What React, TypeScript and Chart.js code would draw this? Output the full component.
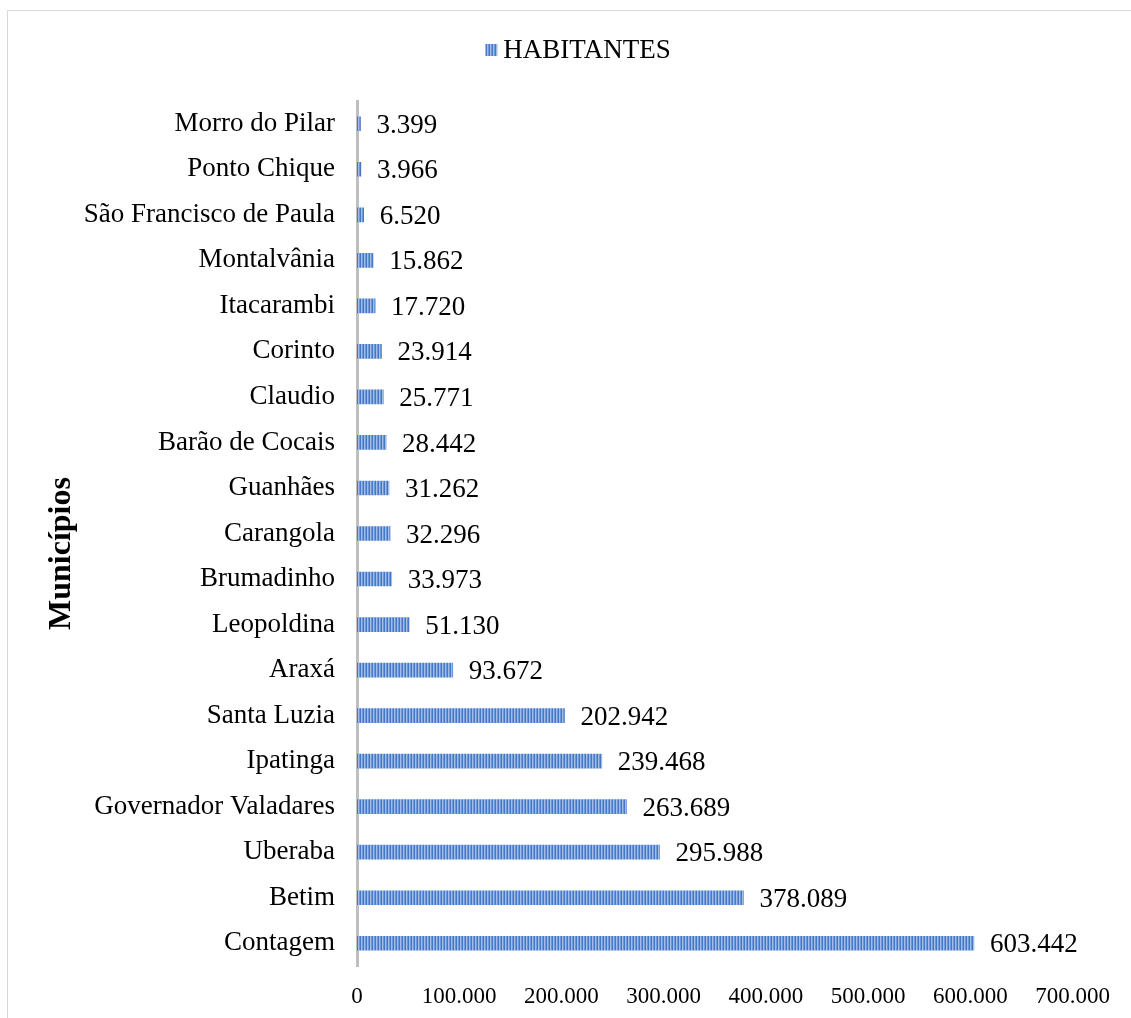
import React, { useEffect, useRef } from "react";
import { Chart, registerables } from "chart.js";

Chart.register(...registerables);

const municipios: string[] = [
  "Morro do Pilar",
  "Ponto Chique",
  "São Francisco de Paula",
  "Montalvânia",
  "Itacarambi",
  "Corinto",
  "Claudio",
  "Barão de Cocais",
  "Guanhães",
  "Carangola",
  "Brumadinho",
  "Leopoldina",
  "Araxá",
  "Santa Luzia",
  "Ipatinga",
  "Governador Valadares",
  "Uberaba",
  "Betim",
  "Contagem",
];

const habitantes: number[] = [
  3399, 3966, 6520, 15862, 17720, 23914, 25771, 28442, 31262, 32296, 33973,
  51130, 93672, 202942, 239468, 263689, 295988, 378089, 603442,
];

const seriesLabel = "HABITANTES";
const axisTitle = "Municípios";
const xMax = 700000;
const xStep = 100000;

const FONT = "'Liberation Serif', 'Times New Roman', serif";

function fmt(n: number): string {
  return String(Math.round(n)).replace(/\B(?=(\d{3})+(?!\d))/g, ".");
}

function makePattern(): CanvasPattern | string {
  const c = document.createElement("canvas");
  c.width = 3;
  c.height = 4;
  const g = c.getContext("2d");
  if (!g) return "#5b8bd0";
  const cols = ["#4877c4", "#a0bde8", "#6e99d8"];
  cols.forEach((col, i) => {
    g.fillStyle = col;
    g.fillRect(i, 0, 1, 4);
  });
  const p = g.createPattern(c, "repeat");
  return p || "#5b8bd0";
}

export default function App() {
  const ref = useRef<HTMLCanvasElement | null>(null);

  useEffect(() => {
    if (!ref.current) return;
    const pattern = makePattern();

    const framePlugin = {
      id: "frame",
      beforeDraw(chart: any) {
        const ctx = chart.ctx;
        ctx.save();
        ctx.fillStyle = "#ffffff";
        ctx.fillRect(0, 0, chart.width, chart.height);
        ctx.strokeStyle = "#d9d9d9";
        ctx.lineWidth = 1;
        ctx.strokeRect(7.5, 10.5, chart.width + 20, chart.height + 20);
        ctx.restore();
      },
    };

    const legendPlugin = {
      id: "customLegend",
      afterDraw(chart: any) {
        const ctx = chart.ctx;
        const ds = chart.data.datasets[0];
        ctx.save();
        ctx.font = `27px ${FONT}`;
        const tw = ctx.measureText(ds.label).width;
        const box = 12;
        const gap = 6;
        const total = box + gap + tw;
        const cx = 578;
        const cy = 50;
        const x0 = cx - total / 2;
        ctx.fillStyle = ds.backgroundColor;
        ctx.fillRect(x0, cy - box / 2, box, box);
        ctx.fillStyle = "#000000";
        ctx.textBaseline = "middle";
        ctx.textAlign = "left";
        ctx.fillText(ds.label, x0 + box + gap, cy + 1);
        ctx.restore();
      },
    };

    const valueLabels = {
      id: "valueLabels",
      afterDatasetsDraw(chart: any) {
        const ctx = chart.ctx;
        const meta = chart.getDatasetMeta(0);
        const data = chart.data.datasets[0].data as number[];
        ctx.save();
        ctx.font = `27px ${FONT}`;
        ctx.fillStyle = "#000000";
        ctx.textBaseline = "middle";
        ctx.textAlign = "left";
        meta.data.forEach((bar: any, i: number) => {
          ctx.fillText(fmt(data[i]), bar.x + 16, bar.y + 2);
        });
        ctx.restore();
      },
    };

    const chart = new Chart(ref.current, {
      type: "bar",
      data: {
        labels: municipios,
        datasets: [
          {
            label: seriesLabel,
            data: habitantes,
            backgroundColor: pattern as any,
            borderWidth: 0,
            barThickness: 14,
          },
        ],
      },
      options: {
        indexAxis: "y",
        responsive: false,
        animation: false,
        layout: { padding: { top: 101, right: 58.4, left: 0, bottom: 0 } },
        plugins: {
          legend: { display: false },
          tooltip: { enabled: false },
        },
        scales: {
          x: {
            min: 0,
            max: xMax,
            grid: { display: false, drawTicks: false },
            border: { display: false },
            ticks: {
              stepSize: xStep,
              padding: 17,
              color: "#000000",
              font: { family: FONT, size: 23 },
              maxRotation: 0,
              callback: (v: any) => fmt(Number(v)),
            },
            afterFit(scale: any) {
              scale.height = 52;
            },
          },
          y: {
            grid: { display: false, drawTicks: false },
            border: { display: true, color: "#bfbfbf", width: 3 },
            ticks: {
              padding: 22,
              color: "#000000",
              font: { family: FONT, size: 27 },
              autoSkip: false,
            },
            title: {
              display: true,
              text: axisTitle + "     ",
              color: "#000000",
              font: { family: FONT, size: 32, weight: "bold" },
              padding: { top: 43, bottom: 0 },
            },
            afterFit(scale: any) {
              scale.width = 357;
            },
          },
        },
      },
      plugins: [framePlugin, legendPlugin, valueLabels],
    });

    return () => chart.destroy();
  }, []);

  return (
    <div style={{ position: "absolute", left: 0, top: 0, width: 1131, height: 1018 }}>
      <canvas ref={ref} width={1131} height={1018} style={{ display: "block" }} />
    </div>
  );
}
